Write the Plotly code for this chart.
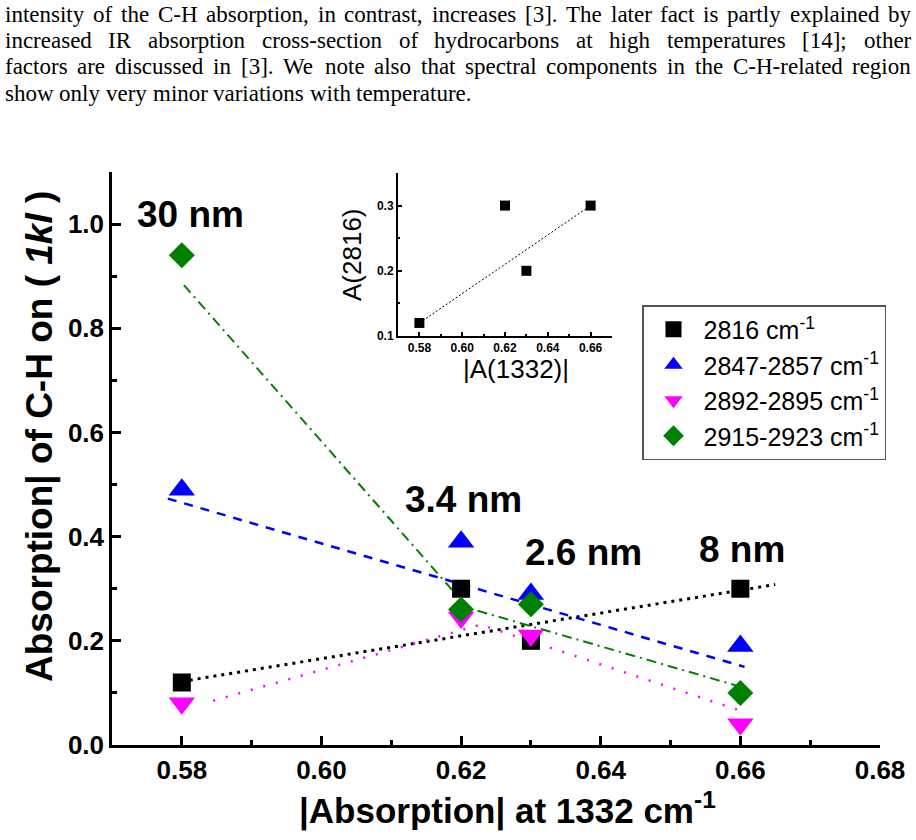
import plotly.graph_objects as go

# ---------------- data ----------------
x_vals = [0.58, 0.62, 0.63, 0.66]
y_2816 = [0.12, 0.30, 0.20, 0.30]
y_2847 = [0.49, 0.39, 0.29, 0.19]
y_2892 = [0.08, 0.245, 0.21, 0.04]
y_2915 = [0.94, 0.26, 0.27, 0.10]

series_names = ["2816 cm<sup>-1</sup>", "2847-2857 cm<sup>-1</sup>",
                "2892-2895 cm<sup>-1</sup>", "2915-2923 cm<sup>-1</sup>"]

# hand-drawn guide lines
guide_2816_x = [0.58, 0.665]
guide_2816_y = [0.122, 0.308]
guide_2847_x = [0.578, 0.6606]
guide_2847_y = [0.473, 0.150]
guide_2892_x = [0.5845, 0.6228, 0.661]
guide_2892_y = [0.085, 0.231, 0.0615]
guide_2915_x = [0.5803, 0.621, 0.66]
guide_2915_y = [0.883, 0.263, 0.112]

# inset
inset_x = [0.58, 0.62, 0.63, 0.66]
inset_y = [0.12, 0.30, 0.20, 0.30]
inset_guide_x = [0.58, 0.66]
inset_guide_y = [0.12, 0.30]

size_labels = ["30 nm", "3.4 nm", "2.6 nm", "8 nm"]
size_label_x = [0.5812, 0.6204, 0.6375, 0.6602]
size_label_y = [1.019, 0.471, 0.369, 0.375]

para_lines = [
    "intensity of the C-H absorption, in contrast, increases [3]. The later fact is partly explained by",
    "increased IR absorption cross-section of hydrocarbons at high temperatures [14]; other",
    "factors are discussed in [3]. We note also that spectral components in the C-H-related region",
    "show only very minor variations with temperature.",
]

# ---------------- layout helpers ----------------
W, H = 916, 840
ML, MR, MT, MB = 112, 36, 172, 95
PW, PH = W - ML - MR, H - MT - MB
SANS = "Liberation Sans, Arial, sans-serif"
SERIF = "Liberation Serif, Times New Roman, serif"


def px2paper(px, py):
    return (px - ML) / PW, (H - MB - py) / PH


TW = {' ': 250, '!': 333, '(': 333, ')': 333, ',': 250, '-': 333, '.': 250, ';': 278,
      '[': 333, ']': 333, ':': 278}
for d in "0123456789":
    TW[d] = 500
TW.update(dict(zip("ABCDEFGHIJKLMNOPQRSTUVWXYZ",
                   [722, 667, 667, 722, 611, 556, 722, 722, 333, 389, 722, 611, 889, 722, 722, 556,
                    722, 667, 556, 611, 722, 722, 944, 722, 722, 611])))
TW.update(dict(zip("abcdefghijklmnopqrstuvwxyz",
                   [444, 500, 444, 500, 444, 333, 500, 500, 278, 278, 500, 278, 778, 500, 500, 500,
                    500, 333, 389, 278, 500, 500, 722, 500, 500, 444])))


def tw(s, fs):
    return sum(TW.get(c, 500) for c in s) / 1000.0 * fs


fig = go.Figure()

line_styles = [
    ("black", "3px,5px", 3, guide_2816_x, guide_2816_y),
    ("blue", "9px,8px", 2.5, guide_2847_x, guide_2847_y),
    ("magenta", "2px,11px", 2.5, guide_2892_x, guide_2892_y),
    ("green", "10px,5px,2px,5px", 2, guide_2915_x, guide_2915_y),
]
for col, dash, wdt, gx, gy in line_styles:
    fig.add_trace(go.Scatter(x=gx, y=gy, mode="lines", showlegend=False, hoverinfo="skip",
                             line=dict(color=col, dash=dash, width=wdt)))

marker_styles = [
    (y_2816, "square", "black", 18),
    (y_2847, "triangle-up", "blue", 23),
    (y_2892, "triangle-down", "magenta", 23),
    (y_2915, "diamond", "green", 20),
]
for (yv, sym, col, sz), name in zip(marker_styles, series_names):
    fig.add_trace(go.Scatter(x=x_vals, y=yv, mode="markers", name=name,
                             marker=dict(symbol=sym, color=col, size=sz, line=dict(width=0))))

# inset
fig.add_trace(go.Scatter(x=inset_guide_x, y=inset_guide_y, mode="lines", xaxis="x2", yaxis="y2",
                         showlegend=False, line=dict(color="black", dash="2px,2px", width=1)))
fig.add_trace(go.Scatter(x=inset_x, y=inset_y, mode="markers", xaxis="x2", yaxis="y2",
                         showlegend=False, marker=dict(symbol="square", color="black", size=10)))

annotations = []
for t, ax_, ay_ in zip(size_labels, size_label_x, size_label_y):
    annotations.append(dict(x=ax_, y=ay_, xref="x", yref="y", text=t, showarrow=False,
                            xanchor="center", yanchor="middle",
                            font=dict(family=SANS, size=37, color="black", weight="bold")))

# axis titles
tx, ty = px2paper(507, 808)
annotations.append(dict(x=tx, y=ty, xref="paper", yref="paper", xanchor="center", yanchor="middle",
                        text="|Absorption| at 1332 cm<sup>-1</sup>", showarrow=False,
                        font=dict(family=SANS, size=35, color="black", weight="bold")))
tx, ty = px2paper(40, 437)
annotations.append(dict(x=tx, y=ty, xref="paper", yref="paper", textangle=-90,
                        xanchor="center", yanchor="middle",
                        text="Absorption| of C-H on ( <i>1kl</i> )", showarrow=False,
                        font=dict(family=SANS, size=37, color="black", weight="bold")))
# inset titles
tx, ty = px2paper(516, 369)
annotations.append(dict(x=tx, y=ty, xref="paper", yref="paper", text="|A(1332)|", showarrow=False,
                        xanchor="center", yanchor="middle",
                        font=dict(family=SANS, size=26, color="black")))
tx, ty = px2paper(352, 255)
annotations.append(dict(x=tx, y=ty, xref="paper", yref="paper", text="A(2816)", showarrow=False,
                        xanchor="center", yanchor="middle",
                        textangle=-90, font=dict(family=SANS, size=26, color="black")))

# paragraph text (justified)
FS = 23
line_centers = [15, 41, 67, 94]
LEFT, RIGHT = 5, 911
for i, (ln, cy) in enumerate(zip(para_lines, line_centers)):
    words = ln.split(" ")
    widths = [tw(w_, FS) for w_ in words]
    if i < 3:
        gap = max((RIGHT - LEFT - sum(widths)) / (len(words) - 1), 0.2 * FS)
    else:
        gap = tw(" ", FS)
    xpos = LEFT
    for w_, wd in zip(words, widths):
        px_, py_ = px2paper(xpos, cy)
        annotations.append(dict(x=px_, y=py_, xref="paper", yref="paper", text=w_,
                                showarrow=False, xanchor="left", yanchor="middle",
                                borderpad=0, borderwidth=0,
                                font=dict(family=SERIF, size=FS, color="black")))
        xpos += wd + gap

lx, ly = px2paper(642, 305)
ix0, iy0 = px2paper(398, 336)
ix1, iy1 = px2paper(612, 173)

fig.update_layout(
    width=W, height=H, margin=dict(l=ML, r=MR, t=MT, b=MB),
    plot_bgcolor="white", paper_bgcolor="white",
    showlegend=True,
    legend=dict(x=lx, y=ly, xanchor="left", yanchor="top", bgcolor="white",
                bordercolor="#555555", borderwidth=1.5, itemwidth=50,
                font=dict(family=SANS, size=25, color="black"), itemsizing="trace"),
    xaxis=dict(range=[0.57, 0.68], tick0=0.58, dtick=0.02, tickformat=".2f",
               showline=True, linecolor="black", linewidth=2.5, mirror=False,
               ticks="inside", ticklen=9, tickwidth=2.5, tickcolor="black",
               minor=dict(dtick=0.01, ticks="inside", ticklen=5, tickwidth=2.5, tickcolor="black"),
               showgrid=False, zeroline=False,
               tickfont=dict(family=SANS, size=26, color="black", weight="bold")),
    yaxis=dict(range=[0, 1.1], tick0=0, dtick=0.2, tickformat=".1f",
               showline=True, linecolor="black", linewidth=2.5,
               ticks="inside", ticklen=9, tickwidth=2.5, tickcolor="black",
               minor=dict(dtick=0.1, ticks="inside", ticklen=5, tickwidth=2.5, tickcolor="black"),
               showgrid=False, zeroline=False,
               tickfont=dict(family=SANS, size=26, color="black", weight="bold")),
    xaxis2=dict(domain=[ix0, ix1], anchor="y2", range=[0.57, 0.67], tick0=0.58, dtick=0.02,
                tickformat=".2f", showline=True, linecolor="black", linewidth=2,
                ticks="inside", ticklen=4, tickwidth=1.5, tickcolor="black",
                minor=dict(dtick=0.01, ticks="inside", ticklen=2, tickwidth=1.5, tickcolor="black"),
                showgrid=False, zeroline=False,
                tickfont=dict(family=SANS, size=12, color="black", weight="bold")),
    yaxis2=dict(domain=[iy0, iy1], anchor="x2", range=[0.1, 0.35], tick0=0.1, dtick=0.1,
                tickformat=".1f", showline=True, linecolor="black", linewidth=2,
                ticks="inside", ticklen=4, tickwidth=1.5, tickcolor="black",
                minor=dict(dtick=0.05, ticks="inside", ticklen=2, tickwidth=1.5, tickcolor="black"),
                showgrid=False, zeroline=False,
                tickfont=dict(family=SANS, size=12, color="black", weight="bold")),
    annotations=annotations,
)

fig.write_html("out.html")
